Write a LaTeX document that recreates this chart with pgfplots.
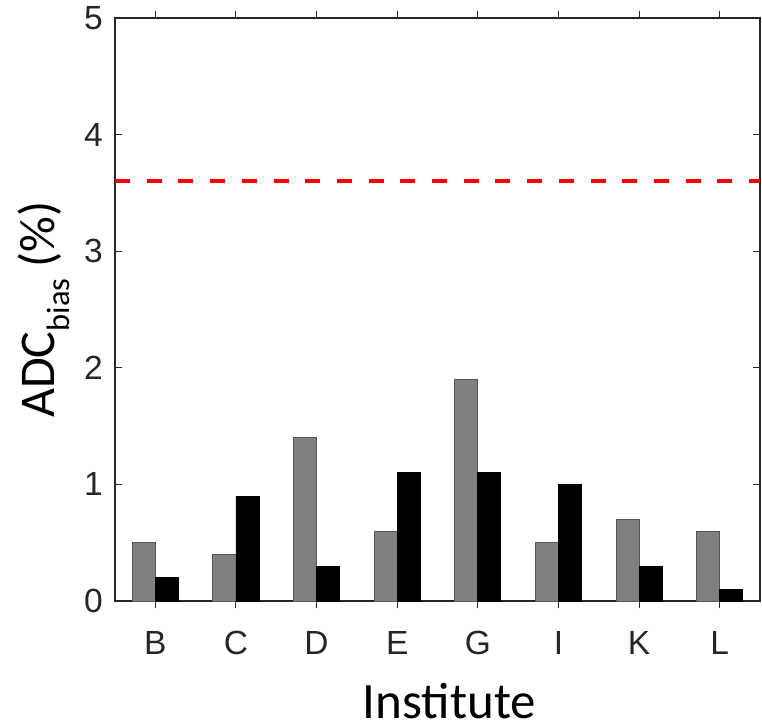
\documentclass[border=0pt]{standalone}
\usepackage{fontspec}
\setmainfont{Liberation Sans}
\newfontfamily\calibri{Carlito}
\usepackage{pgfplots}
\pgfplotsset{compat=1.18}
\definecolor{axc}{RGB}{38,38,38}
\definecolor{barg}{RGB}{128,128,128}
\definecolor{bare}{RGB}{85,85,85}
\begin{document}
\begin{tikzpicture}
\begin{axis}[
 scale only axis, width=645bp, height=583bp,
 at={(0,0)}, anchor=south west,
 xmin=0.5, xmax=8.5, ymin=0, ymax=5,
 xtick={1,2,3,4,5,6,7,8}, xticklabels={B,C,D,E,G,I,K,L},
 ytick={0,1,2,3,4,5},
 tick align=inside, major tick length=7bp,
 tick style={axc, line width=1bp},
 axis line style={axc, line width=1.3bp},
 every tick label/.append style={font=\fontsize{33.5bp}{33.5bp}\selectfont, text=axc, inner sep=0pt},
 /pgf/number format/assume math mode=true,
 xticklabel style={anchor=base, yshift=-46bp},
 yticklabel style={anchor=east, xshift=-12bp},
 xlabel={Institute},
 xlabel style={font=\calibri\fontsize{51bp}{51bp}\selectfont, at={(axis description cs:0.5,0)}, anchor=base, yshift=-117bp, xshift=12bp, inner sep=0pt},
 ylabel={ADC\raisebox{-15bp}{\fontsize{32.5bp}{32.5bp}\selectfont bias} (\%)},
 ylabel style={font=\calibri\fontsize{50bp}{50bp}\selectfont, at={([xshift=-60bp]axis description cs:0,0.5)}, anchor=base, inner sep=0pt},
 ybar, bar width=0.286,
]
\addplot[fill=barg, draw=bare, line width=0.8bp, bar shift=-0.143] coordinates {(1,0.5) (2,0.4) (3,1.4) (4,0.6) (5,1.9) (6,0.5) (7,0.7) (8,0.6)};
\addplot[fill=black, draw=black, line width=0.8bp, bar shift=0.143] coordinates {(1,0.2) (2,0.9) (3,0.3) (4,1.1) (5,1.1) (6,1.0) (7,0.3) (8,0.1)};
\addplot[sharp plot, red, line width=4bp, dash pattern=on 15bp off 16.7bp] coordinates {(0.5,3.6) (8.5,3.6)};
\end{axis}
\pgfresetboundingbox
\path (-115bp,-123bp) rectangle (647bp,601bp);
\end{tikzpicture}
\end{document}
